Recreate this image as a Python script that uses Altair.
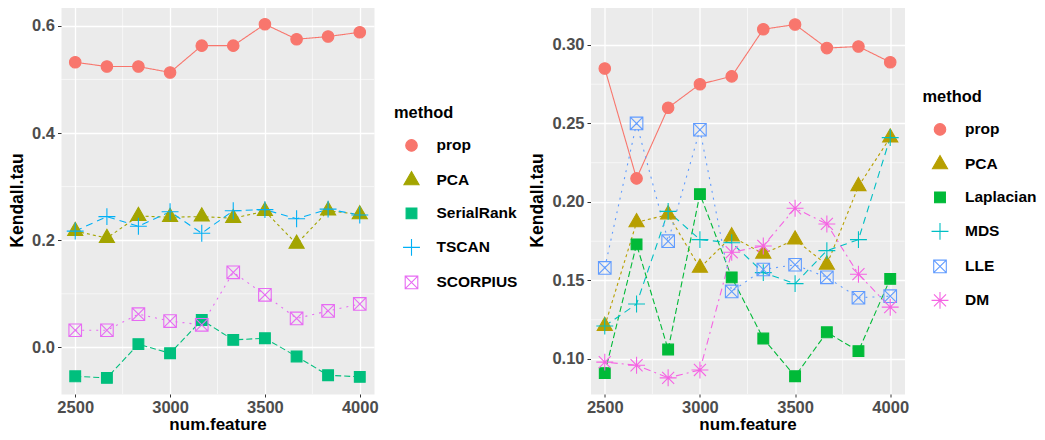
import altair as alt
import pandas as pd

# ---------------- data ----------------
num_feature = [2500, 2667, 2833, 3000, 3167, 3333, 3500, 3667, 3833, 4000]

left_methods = ["prop", "PCA", "SerialRank", "TSCAN", "SCORPIUS"]
left_prop = [0.532, 0.524, 0.524, 0.513, 0.563, 0.563, 0.603, 0.575, 0.580, 0.588]
left_pca = [0.217, 0.204, 0.245, 0.243, 0.244, 0.241, 0.254, 0.193, 0.255, 0.248]
left_serialrank = [-0.054, -0.057, 0.006, -0.011, 0.051, 0.014, 0.017, -0.017, -0.052, -0.055]
left_tscan = [0.217, 0.244, 0.226, 0.253, 0.213, 0.255, 0.257, 0.240, 0.258, 0.247]
left_scorpius = [0.032, 0.032, 0.062, 0.049, 0.042, 0.140, 0.098, 0.054, 0.068, 0.081]

right_methods = ["prop", "PCA", "Laplacian", "MDS", "LLE", "DM"]
right_prop = [0.285, 0.215, 0.260, 0.275, 0.280, 0.310, 0.313, 0.298, 0.299, 0.289]
right_pca = [0.121, 0.187, 0.192, 0.158, 0.178, 0.167, 0.176, 0.160, 0.210, 0.241]
right_laplacian = [0.091, 0.173, 0.106, 0.205, 0.152, 0.113, 0.089, 0.117, 0.105, 0.151]
right_mds = [0.121, 0.135, 0.194, 0.176, 0.174, 0.155, 0.148, 0.169, 0.176, 0.241]
right_lle = [0.158, 0.250, 0.175, 0.246, 0.143, 0.157, 0.160, 0.152, 0.139, 0.140]
right_dm = [0.098, 0.096, 0.088, 0.093, 0.168, 0.172, 0.196, 0.186, 0.154, 0.133]

# tick values / minor grid positions
x_ticks = [2500, 3000, 3500, 4000]
x_minor = [2750, 3250, 3750]
left_y_ticks = [0.0, 0.2, 0.4, 0.6]
left_y_minor = [0.1, 0.3, 0.5]
right_y_ticks = [0.10, 0.15, 0.20, 0.25, 0.30]
right_y_minor = [0.125, 0.175, 0.225, 0.275]

# ---------------- styles ----------------
left_colors = ["#F8766D", "#A3A500", "#00BF7D", "#00B0F6", "#E76BF3"]
right_colors = ["#F8766D", "#B79F00", "#00BA38", "#00BFC4", "#619CFF", "#F564E3"]

CIRCLE = "M-0.64,0A0.64,0.64,0,1,0,0.64,0A0.64,0.64,0,1,0,-0.64,0Z"
TRIANGLE = "M0,-0.98L0.84,0.48L-0.84,0.48Z"
SQUARE = "M-0.6,-0.6L0.6,-0.6L0.6,0.6L-0.6,0.6Z"
PLUS = "M-0.94,0L0.94,0M0,-0.94L0,0.94"
SQUARE_X = "M-0.7,-0.7L0.7,-0.7L0.7,0.7L-0.7,0.7ZM-0.7,-0.7L0.7,0.7M-0.7,0.7L0.7,-0.7"
ASTERISK = "M-0.94,0L0.94,0M0,-0.94L0,0.94M-0.67,-0.67L0.67,0.67M-0.67,0.67L0.67,-0.67"

left_shapes = [CIRCLE, TRIANGLE, SQUARE, PLUS, SQUARE_X]
right_shapes = [CIRCLE, TRIANGLE, SQUARE, PLUS, SQUARE_X, ASTERISK]
left_fills = left_colors[:3] + ["transparent", "transparent"]
right_fills = right_colors[:3] + ["transparent", "transparent", "transparent"]
left_dashes = [[1, 0], [3, 3], [6, 3], [7, 5], [2, 5]]
right_dashes = [[1, 0], [3, 3], [6, 3], [7, 5], [2, 5], [2, 4, 7, 4]]

FONT = "Liberation Sans"


def long_df(methods, series):
    rows = []
    for m, vals in zip(methods, series):
        for x, v in zip(num_feature, vals):
            rows.append({"nf": x, "tau": v, "method": m})
    return pd.DataFrame(rows)


def panel(methods, series, colors, fills, shapes, dashes, ydomain, yticks, yfmt,
          yminor, legend_x, legend_y, width, height):
    df = long_df(methods, series)
    xs = alt.Scale(domain=[2425, 4075], nice=False, zero=False)
    ys = alt.Scale(domain=ydomain, nice=False, zero=False)
    xaxis = alt.Axis(values=x_ticks, format="d", title="num.feature")
    yaxis = alt.Axis(values=yticks, format=yfmt, title="Kendall.tau")
    legend = alt.Legend(title="method", orient="none",
                        legendX=legend_x, legendY=legend_y)

    minor_h = alt.Chart(pd.DataFrame({"tau": yminor})).mark_rule(
        color="white", strokeWidth=0.6).encode(
        y=alt.Y("tau:Q", scale=ys, axis=yaxis))
    minor_v = alt.Chart(pd.DataFrame({"nf": x_minor})).mark_rule(
        color="white", strokeWidth=0.6).encode(
        x=alt.X("nf:Q", scale=xs, axis=xaxis))

    layers = [minor_h, minor_v]
    for m, c, d in zip(methods, colors, dashes):
        layers.append(
            alt.Chart(df).transform_filter(alt.datum.method == m).mark_line(
                strokeWidth=1.1, color=c, strokeDash=d).encode(
                x=alt.X("nf:Q", scale=xs, axis=xaxis),
                y=alt.Y("tau:Q", scale=ys, axis=yaxis),
            )
        )
    points = alt.Chart(df).mark_point(filled=True, size=324, strokeWidth=1.1,
                                      opacity=1).encode(
        x=alt.X("nf:Q", scale=xs, axis=xaxis),
        y=alt.Y("tau:Q", scale=ys, axis=yaxis),
        stroke=alt.Stroke("method:N", scale=alt.Scale(domain=methods, range=colors),
                          legend=legend),
        fill=alt.Fill("method:N", scale=alt.Scale(domain=methods, range=fills),
                      legend=legend),
        shape=alt.Shape("method:N", scale=alt.Scale(domain=methods, range=shapes),
                        legend=legend),
    )
    layers.append(points)
    return alt.layer(*layers).properties(width=width, height=height)


left = panel(left_methods,
             [left_prop, left_pca, left_serialrank, left_tscan, left_scorpius],
             left_colors, left_fills, left_shapes, left_dashes,
             [-0.087, 0.637], left_y_ticks, ".1f", left_y_minor, 333, 99, 313, 388)
right = panel(right_methods,
              [right_prop, right_pca, right_laplacian, right_mds, right_lle, right_dm],
              right_colors, right_fills, right_shapes, right_dashes,
              [0.0777, 0.3248], right_y_ticks, ".2f", right_y_minor, 332, 83, 314, 388)

chart = alt.hconcat(left, right, spacing=8.5).resolve_scale(
    stroke="independent", fill="independent", shape="independent",
    y="independent",
).properties(
    padding={"left": 0, "top": -3, "right": 0, "bottom": 0},
).configure_view(
    fill="#EBEBEB", stroke="transparent",
).configure_axis(
    grid=True, gridColor="white", gridWidth=1.3,
    domain=False, ticks=True, tickColor="#333333", tickSize=3.5, tickWidth=1,
    labelFont=FONT, labelFontSize=16.5, labelFontWeight="bold",
    labelColor="#4D4D4D", labelPadding=3, labelFlush=False, labelOverlap=False,
    titleFont=FONT, titleFontSize=17.5, titleFontWeight="bold",
    titleColor="black",
).configure_axisX(
    tickSize=3, labelPadding=2, titlePadding=0.5, titleFontSize=17,
).configure_axisY(
    titlePadding=5,
).configure_legend(
    titleFont=FONT, titleFontSize=16.4, titleFontWeight="bold", titleColor="black",
    labelFont=FONT, labelFontSize=15.5, labelFontWeight="bold", labelColor="black",
    symbolSize=324, symbolStrokeWidth=1.1, rowPadding=14, titlePadding=14,
    labelOffset=15, symbolOffset=7.5,
)

chart.save("out.html", embed_options={"renderer": "svg", "actions": False})
